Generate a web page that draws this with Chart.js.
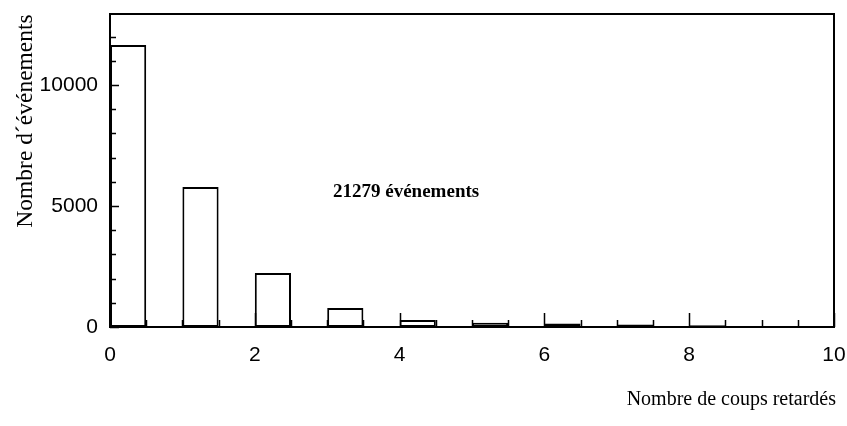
<!DOCTYPE html>
<html>
<head>
<meta charset="utf-8">
<script src="https://cdn.jsdelivr.net/npm/chart.js@4.4.1/dist/chart.umd.min.js"></script>
<style>
  html, body { margin: 0; padding: 0; background: #fff; }
  #wrap { width: 847px; height: 426px; }
</style>
</head>
<body>
<div id="wrap"><canvas id="histo"></canvas></div>
<script>
// histogram: number of delayed hits per event
const binStarts = [0, 1, 2, 3, 4, 5, 6, 7, 8, 9];
const binWidth = 0.5;
const counts = [11650, 5780, 2230, 790, 290, 180, 140, 100, 70, 30];
const xTicks = [0, 2, 4, 6, 8, 10];
const yTicks = [0, 5000, 10000];
const xMinorStep = 0.5;
const yMinorStep = 1000;
const totalLabel = '21279 événements';
const xTitle = 'Nombre de coups retardés';
const yTitle = 'Nombre d\u00b4événements';

const serif = '"Liberation Serif", "Times New Roman", serif';
const sans = '"Liberation Sans", Arial, sans-serif';

const points = binStarts.map((s, i) => ({ x: s + binWidth / 2, y: counts[i] }));

// inward ticks, frame and free texts
const frameTicks = {
  id: 'frameTicks',
  afterDatasetsDraw(chart) {
    const { ctx, chartArea: a, scales: { x, y } } = chart;
    ctx.save();
    ctx.strokeStyle = '#000';
    ctx.lineWidth = 1.5;
    ctx.beginPath();
    for (let v = x.min; v <= x.max + 1e-9; v += xMinorStep) {
      const px = Math.round(x.getPixelForValue(v)) + 0.5;
      const len = xTicks.includes(v) ? 14 : 7;
      ctx.moveTo(px, a.bottom);
      ctx.lineTo(px, a.bottom - len);
    }
    for (let v = 0; v <= y.max; v += yMinorStep) {
      const py = Math.round(y.getPixelForValue(v)) + 0.5;
      const len = yTicks.includes(v) ? 9 : 6;
      ctx.moveTo(a.left, py);
      ctx.lineTo(a.left + len, py);
    }
    ctx.stroke();

    ctx.lineWidth = 2;
    ctx.strokeRect(a.left, a.top, a.width, a.height);

    ctx.fillStyle = '#000';
    ctx.font = 'bold 19px ' + serif;
    ctx.textAlign = 'left';
    ctx.textBaseline = 'alphabetic';
    ctx.fillText(totalLabel, 333, 197);

    ctx.font = '20px ' + serif;
    ctx.textAlign = 'right';
    ctx.fillText(xTitle, 836, 405);

    ctx.translate(32, 121);
    ctx.rotate(-Math.PI / 2);
    ctx.textAlign = 'center';
    ctx.font = '23.5px ' + serif;
    ctx.fillText(yTitle, 0, 0);
    ctx.restore();
  }
};

new Chart(document.getElementById('histo'), {
  type: 'bar',
  data: {
    datasets: [{
      data: points,
      backgroundColor: '#fff',
      borderColor: '#000',
      borderWidth: 2,
      borderSkipped: false,
      categoryPercentage: 1,
      barPercentage: 0.5
    }]
  },
  options: {
    responsive: true,
    maintainAspectRatio: false,
    animation: false,
    layout: { padding: { left: 0, right: 13, top: 14, bottom: 0 } },
    plugins: { legend: { display: false }, tooltip: { enabled: false } },
    scales: {
      x: {
        type: 'linear',
        offset: false,
        min: 0,
        max: 10,
        grid: { display: false, offset: false },
        border: { display: false },
        afterBuildTicks: (s) => { s.ticks = xTicks.map(v => ({ value: v })); },
        ticks: {
          padding: 8,
          color: '#000',
          maxRotation: 0,
          autoSkip: false,
          callback: (v) => String(v),
          font: { family: sans, size: 21 }
        },
        afterFit: (s) => { s.height = 99; s.paddingLeft = 0; s.paddingRight = 0; }
      },
      y: {
        min: 0,
        max: 12930,
        grid: { display: false },
        border: { display: false },
        afterBuildTicks: (s) => { s.ticks = yTicks.map(v => ({ value: v })); },
        ticks: {
          padding: 4,
          color: '#000',
          autoSkip: false,
          callback: (v) => String(v),
          font: { family: sans, size: 21 }
        },
        afterFit: (s) => { s.width = 110; s.paddingTop = 0; s.paddingBottom = 0; }
      }
    }
  },
  plugins: [frameTicks]
});
</script>
</body>
</html>
